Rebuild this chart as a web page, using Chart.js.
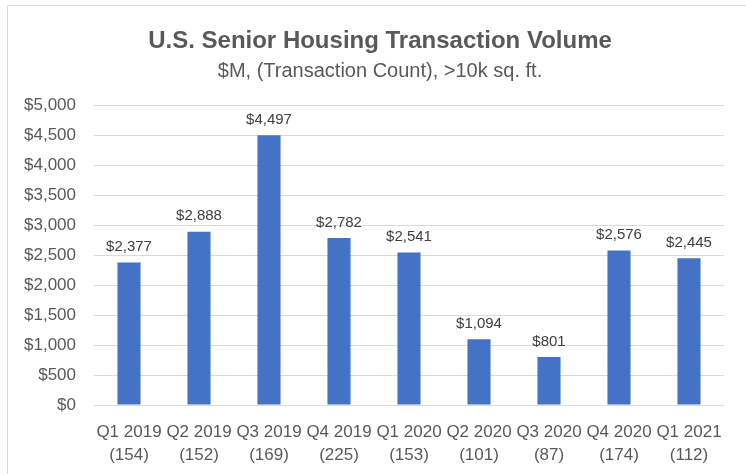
<!DOCTYPE html>
<html><head><meta charset="utf-8">
<script src="https://cdn.jsdelivr.net/npm/chart.js@4/dist/chart.umd.min.js"></script>
<style>
html,body{margin:0;padding:0;background:#fff;overflow:hidden;}
#frame{position:absolute;left:7px;top:5px;width:760px;height:490px;border:1px solid #d9d9d9;}
#wrap{position:absolute;left:0;top:0;width:746px;height:474px;}
</style></head>
<body>
<div id="frame"></div>
<div id="wrap"><canvas id="c" width="746" height="474"></canvas></div>
<script>
const quarters = ['Q1 2019','Q2 2019','Q3 2019','Q4 2019','Q1 2020','Q2 2020','Q3 2020','Q4 2020','Q1 2021'];
const counts = [154,152,169,225,153,101,87,174,112];
const volumes = [2377,2888,4497,2782,2541,1094,801,2576,2445];
const labels = quarters.map((q,i)=>[q,'('+counts[i]+')']);
const titleText = 'U.S. Senior Housing Transaction Volume';
const subtitleText = '$M, (Transaction Count), >10k sq. ft.';
const FONT = "'Liberation Sans', Arial, sans-serif";
const TXT = '#595959';

const valueLabels = {
  id:'valueLabels',
  afterDatasetsDraw(chart){
    const ctx = chart.ctx;
    const meta = chart.getDatasetMeta(0);
    ctx.save();
    ctx.font = '15px ' + FONT;
    ctx.fillStyle = '#404040';
    ctx.textAlign = 'center';
    ctx.textBaseline = 'bottom';
    meta.data.forEach((bar,i)=>{
      ctx.fillText('$' + volumes[i].toLocaleString('en-US'), bar.x, bar.y - 8);
    });
    ctx.restore();
  }
};

const headings = {
  id:'headings',
  afterDraw(chart){
    const ctx = chart.ctx;
    ctx.save();
    ctx.fillStyle = TXT;
    ctx.textAlign = 'center';
    ctx.textBaseline = 'middle';
    ctx.font = 'bold 24px ' + FONT;
    ctx.fillText(titleText, 380, 41);
    ctx.font = '20px ' + FONT;
    ctx.fillText(subtitleText, 380, 71);
    ctx.restore();
  }
};

new Chart(document.getElementById('c'), {
  type:'bar',
  data:{ labels, datasets:[{ data: volumes, backgroundColor:'#4472C4', barPercentage:0.33, categoryPercentage:1 }]},
  plugins:[valueLabels, headings],
  options:{
    responsive:false, animation:false,
    layout:{ padding:{ left:0, right:22, top:105, bottom:0 } },
    plugins:{ legend:{display:false}, tooltip:{enabled:false} },
    scales:{
      y:{ min:0, max:5000,
        ticks:{ stepSize:500, color:TXT, font:{family:FONT, size:17}, padding:18,
          callback:v=>'$'+Number(v).toLocaleString('en-US') },
        grid:{ color:'#d9d9d9', drawTicks:false }, border:{display:false},
        afterFit(s){ s.width = 94; } },
      x:{ ticks:{ color:TXT, font:{family:FONT, size:17, lineHeight:1.35}, padding:16, maxRotation:0, autoSkip:false },
        grid:{ display:false, drawTicks:false }, border:{display:false},
        afterFit(s){ s.height = 69; } }
    }
  }
});
</script>
</body></html>
